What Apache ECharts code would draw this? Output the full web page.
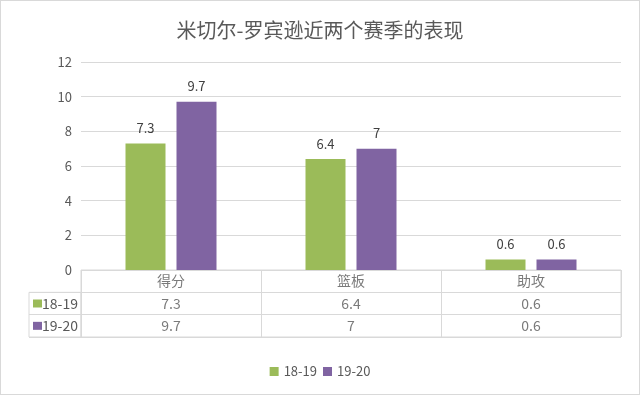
<!DOCTYPE html>
<html><head><meta charset="utf-8">
<script src="https://cdn.jsdelivr.net/npm/echarts@6/dist/echarts.min.js"></script>
<style>html,body{margin:0;padding:0;background:#fff}#c{width:640px;height:395px;box-sizing:border-box;border:1px solid #d9d9d9}</style>
</head><body><div id="c"></div>
<script>
var title = '米切尔-罗宾逊近两个赛季的表现';
var categories = ['得分', '篮板', '助攻'];
var seriesNames = ['18-19', '19-20'];
var s1819 = [7.3, 6.4, 0.6];
var s1920 = [9.7, 7, 0.6];
var yTicks = {min: 0, max: 12, interval: 2};
var colors = ['#9BBB59', '#8064A2'];

var font = '"Noto Sans CJK SC", "Open Sans", sans-serif';
var values = [s1819, s1920];
var tableData = [];
categories.forEach(function (c, i) { tableData.push({value: [i, 0], t: c}); });
values.forEach(function (arr, r) {
  arr.forEach(function (v, i) { tableData.push({value: [i, r + 1], t: String(v)}); });
});

var chart = echarts.init(document.getElementById('c'));
chart.setOption({
  animation: false,
  textStyle: {fontFamily: font},
  color: colors,
  title: {text: title, left: 'center', top: 14, textStyle: {fontSize: 20, fontWeight: 'normal', color: '#595959', fontFamily: font}},
  legend: {bottom: 11, left: 'center', itemWidth: 9, itemHeight: 9, itemGap: 6, icon: 'rect',
    textStyle: {fontSize: 13, color: '#595959'}, data: seriesNames},
  grid: [
    {left: 80, right: 18, top: 61, height: 208},
    {left: 80, right: 18, top: 269, height: 67, show: true, borderColor: '#d9d9d9', borderWidth: 1},
    {left: 28, width: 52, top: 269 + 67 / 3, height: 67 * 2 / 3, show: true, borderColor: '#d9d9d9', borderWidth: 1}
  ],
  xAxis: [
    {gridIndex: 0, type: 'category', data: categories, axisLine: {show: false}, axisTick: {show: false}, axisLabel: {show: false}},
    {gridIndex: 1, type: 'category', data: categories, axisLine: {show: false}, axisTick: {show: false}, axisLabel: {show: false},
      splitLine: {show: true, lineStyle: {color: '#d9d9d9'}}},
    {gridIndex: 2, type: 'value', min: 0, max: 1, show: false}
  ],
  yAxis: [
    {gridIndex: 0, type: 'value', min: yTicks.min, max: yTicks.max, interval: yTicks.interval,
      axisLine: {show: false}, axisTick: {show: false},
      axisLabel: {color: '#595959', fontSize: 13, margin: 9},
      splitLine: {lineStyle: {color: '#d9d9d9'}}},
    {gridIndex: 1, type: 'category', inverse: true, data: ['', seriesNames[0], seriesNames[1]],
      axisLine: {show: false}, axisTick: {show: false}, axisLabel: {show: false},
      splitLine: {show: true, lineStyle: {color: '#d9d9d9'}}},
    {gridIndex: 2, type: 'category', inverse: true, data: seriesNames,
      axisLine: {show: false}, axisTick: {show: false},
      splitLine: {show: true, lineStyle: {color: '#d9d9d9'}},
      axisLabel: {inside: true, margin: 4, align: 'left', color: '#595959', fontSize: 14,
        formatter: function (v, i) { return '{s' + i + '|}' + v; },
        rich: {s0: {width: 8, height: 8, backgroundColor: colors[0], padding: [0, 1, 0, 0]},
               s1: {width: 8, height: 8, backgroundColor: colors[1], padding: [0, 1, 0, 0]}}}}
  ],
  series: [
    {name: seriesNames[0], type: 'bar', xAxisIndex: 0, yAxisIndex: 0, data: s1819, barWidth: 40, barGap: '27.5%',
      label: {show: true, position: 'top', distance: 9, color: '#404040', fontSize: 13}},
    {name: seriesNames[1], type: 'bar', xAxisIndex: 0, yAxisIndex: 0, data: s1920, barWidth: 40, barGap: '27.5%',
      label: {show: true, position: 'top', distance: 9, color: '#404040', fontSize: 13}},
    {type: 'scatter', xAxisIndex: 1, yAxisIndex: 1, data: tableData, symbolSize: 1, itemStyle: {color: 'rgba(0,0,0,0)'},
      silent: true,
      label: {show: true, position: 'inside', color: '#595959', fontSize: 14,
        formatter: function (p) { return p.data.t; }}}
  ]
});
</script></body></html>
